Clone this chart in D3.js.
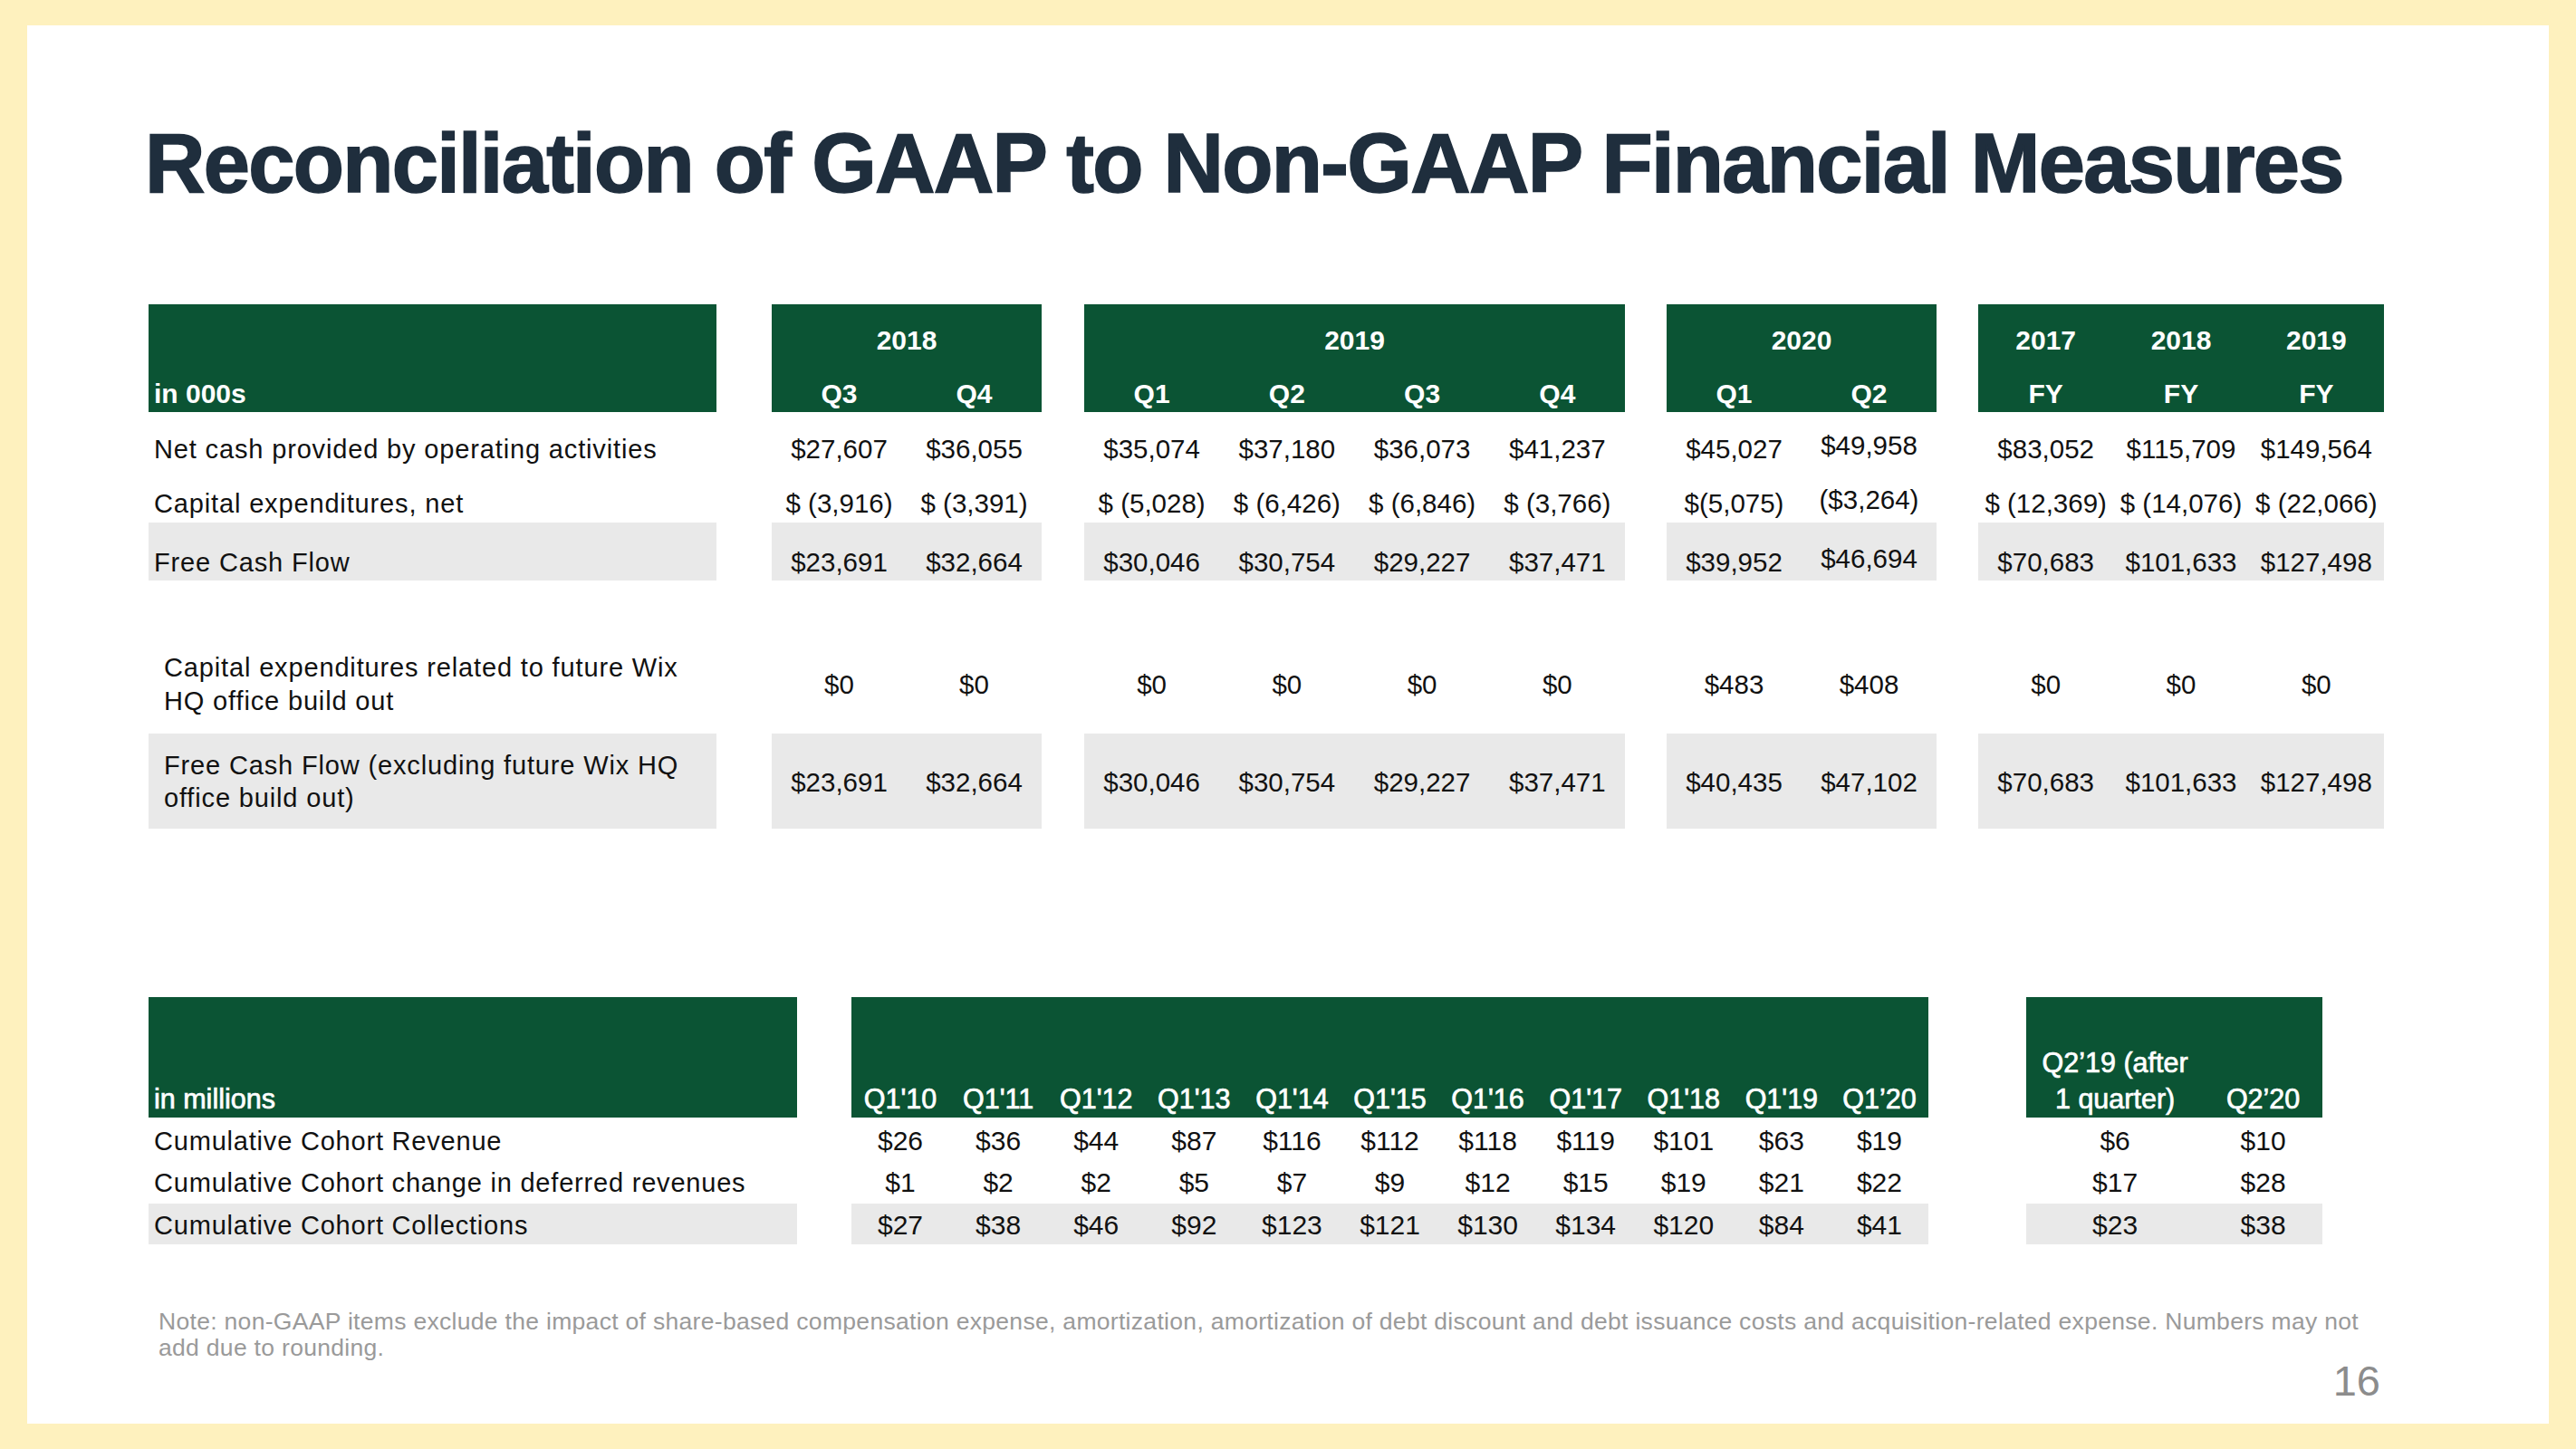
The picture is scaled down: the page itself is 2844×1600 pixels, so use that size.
<!DOCTYPE html>
<html><head><meta charset="utf-8">
<script src="https://cdn.jsdelivr.net/npm/d3@7"></script>
<style>html,body{margin:0;padding:0;background:#FEF1BE;} svg{display:block}</style>
</head><body>
<svg id="chart" width="2844" height="1600"></svg>
<script>
// ---------------- DATA ----------------
const titleText = "Reconciliation of GAAP to Non-GAAP Financial Measures";

// Top table (in 000s)
const topUnitLabel = "in 000s";
const topBlockYears = ["2018", "2019", "2020", null];
const topColumns = ["Q3", "Q4", "Q1", "Q2", "Q3", "Q4", "Q1", "Q2", "FY", "FY", "FY"];
const topColumnBlock = [0, 0, 1, 1, 1, 1, 2, 2, 3, 3, 3];
const fyYears = ["2017", "2018", "2019"];
const topRowLabels = [
  ["Net cash provided by operating activities"],
  ["Capital expenditures, net"],
  ["Free Cash Flow"],
  ["Capital expenditures related to future Wix", "HQ office build out"],
  ["Free Cash Flow (excluding future Wix HQ", "office build out)"]
];
const netCashOperating = [27607, 36055, 35074, 37180, 36073, 41237, 45027, 49958, 83052, 115709, 149564];
const capexNet = [-3916, -3391, -5028, -6426, -6846, -3766, -5075, -3264, -12369, -14076, -22066];
const freeCashFlow = [23691, 32664, 30046, 30754, 29227, 37471, 39952, 46694, 70683, 101633, 127498];
const capexFutureHQ = [0, 0, 0, 0, 0, 0, 483, 408, 0, 0, 0];
const freeCashFlowExHQ = [23691, 32664, 30046, 30754, 29227, 37471, 40435, 47102, 70683, 101633, 127498];

// Bottom table (in millions)
const bottomUnitLabel = "in millions";
const cohortQuarters = ["Q1'10", "Q1'11", "Q1'12", "Q1'13", "Q1'14", "Q1'15", "Q1'16", "Q1'17", "Q1'18", "Q1'19", "Q1\u201920"];
const cohortRowLabels = ["Cumulative Cohort Revenue", "Cumulative Cohort change in deferred revenues", "Cumulative Cohort Collections"];
const cohortRevenue = [26, 36, 44, 87, 116, 112, 118, 119, 101, 63, 19];
const cohortDeferred = [1, 2, 2, 5, 7, 9, 12, 15, 19, 21, 22];
const cohortCollections = [27, 38, 46, 92, 123, 121, 130, 134, 120, 84, 41];
const recentHeaders = [["Q2\u201919 (after", "1 quarter)"], ["Q2\u201920"]];
const recentRevenue = [6, 10];
const recentDeferred = [17, 28];
const recentCollections = [23, 38];

const noteLines = [
  "Note: non-GAAP items exclude the impact of share-based compensation expense, amortization, amortization of debt discount and debt issuance costs and acquisition-related expense. Numbers may not",
  "add due to rounding."
];
const pageNumber = "16";

// ---------------- STYLE / LAYOUT ----------------
const FONT = "'Helvetica Neue', Helvetica, Arial, 'Liberation Sans', sans-serif";
const GREEN = "#0b5434";
const BAND = "#e9e9e9";
const INK = "#111111";

const svg = d3.select("#chart");
svg.append("rect").attr("x", 0).attr("y", 0).attr("width", 2844).attr("height", 1600).attr("fill", "#FEF1BE");
svg.append("rect").attr("x", 30).attr("y", 28).attr("width", 2784).attr("height", 1544).attr("fill", "#ffffff");

// Title
svg.append("text")
  .attr("x", 160).attr("y", 212)
  .attr("font-family", FONT).attr("font-weight", 700).attr("font-size", 92)
  .attr("letter-spacing", -1.7)
  .attr("fill", "#1f2e3d").attr("stroke", "#1f2e3d").attr("stroke-width", 1.6)
  .text(titleText);

function fitText(sel, target) {
  const node = sel.node();
  const len = node.getComputedTextLength();
  const n = node.textContent.length;
  if (n > 1) sel.attr("letter-spacing", (target - len) / n);
}

// ---------- Top table ----------
const topLabelExtent = [164, 791];
const topBlockExtents = [[852, 1150], [1197, 1794], [1840, 2138], [2184, 2632]];
const topHeader = {y0: 336, y1: 455, yearBase: 386, subBase: 445};

const blockScales = topBlockExtents.map((ext, b) => {
  const n = topColumnBlock.filter(d => d === b).length;
  return d3.scaleBand().domain(d3.range(n)).range(ext).padding(0);
});
const topColX = topColumns.map((c, i) => {
  const b = topColumnBlock[i];
  const k = topColumnBlock.slice(0, i).filter(d => d === b).length;
  const s = blockScales[b];
  return s(k) + s.bandwidth() / 2;
});

// header rects
const gTop = svg.append("g");
gTop.append("rect").attr("x", topLabelExtent[0]).attr("y", topHeader.y0)
  .attr("width", topLabelExtent[1] - topLabelExtent[0]).attr("height", topHeader.y1 - topHeader.y0).attr("fill", GREEN);
gTop.selectAll("rect.hb").data(topBlockExtents).join("rect").attr("class", "hb")
  .attr("x", d => d[0]).attr("y", topHeader.y0).attr("width", d => d[1] - d[0])
  .attr("height", topHeader.y1 - topHeader.y0).attr("fill", GREEN);

gTop.append("text").attr("x", 170).attr("y", topHeader.subBase)
  .attr("font-family", FONT).attr("font-weight", 700).attr("font-size", 30).attr("fill", "#fff")
  .text(topUnitLabel);

// year labels
gTop.selectAll("text.yr").data(topBlockYears.map((y, b) => ({y, b})).filter(d => d.y)).join("text").attr("class", "yr")
  .attr("x", d => (topBlockExtents[d.b][0] + topBlockExtents[d.b][1]) / 2).attr("y", topHeader.yearBase)
  .attr("text-anchor", "middle").attr("font-family", FONT).attr("font-weight", 700).attr("font-size", 30).attr("fill", "#fff")
  .text(d => d.y);
const fyCols = topColumns.map((c, i) => i).filter(i => topColumnBlock[i] === 3);
gTop.selectAll("text.fy").data(fyYears).join("text").attr("class", "fy")
  .attr("x", (d, j) => topColX[fyCols[j]]).attr("y", topHeader.yearBase)
  .attr("text-anchor", "middle").attr("font-family", FONT).attr("font-weight", 700).attr("font-size", 30).attr("fill", "#fff")
  .text(d => d);
gTop.selectAll("text.qh").data(topColumns).join("text").attr("class", "qh")
  .attr("x", (d, i) => topColX[i]).attr("y", topHeader.subBase)
  .attr("text-anchor", "middle").attr("font-family", FONT).attr("font-weight", 700).attr("font-size", 30).attr("fill", "#fff")
  .text(d => d);

// rows
const fmt = d3.format(",");
function money(v, i) {
  if (v >= 0) return "$" + fmt(v);
  const a = fmt(-v);
  if (i === 6) return "$(" + a + ")";
  if (i === 7) return "($" + a + ")";
  return "$ (" + a + ")";
}
const topRows = [
  {values: netCashOperating, base: 506},
  {values: capexNet, base: 566},
  {values: freeCashFlow, base: 631, band: [577, 641]},
  {values: capexFutureHQ, base: 766, lines: [747, 784], indent: true},
  {values: freeCashFlowExHQ, base: 874, lines: [855, 891], indent: true, band: [810, 915]}
];
topRows.forEach((row, r) => {
  const g = gTop.append("g");
  if (row.band) {
    [topLabelExtent].concat(topBlockExtents).forEach(ext => {
      g.append("rect").attr("x", ext[0]).attr("y", row.band[0]).attr("width", ext[1] - ext[0])
        .attr("height", row.band[1] - row.band[0]).attr("fill", BAND);
    });
  }
  const lx = row.indent ? 181 : 170;
  const lines = row.lines || [row.base];
  topRowLabels[r].forEach((t, li) => {
    g.append("text").attr("x", lx).attr("y", lines[li])
      .attr("font-family", FONT).attr("font-size", 29).attr("letter-spacing", 0.85).attr("fill", INK).text(t);
  });
  g.selectAll("text.v").data(row.values).join("text").attr("class", "v")
    .attr("x", (d, i) => topColX[i])
    .attr("y", (d, i) => row.base - ((i === 7 && r < 3) ? 4 : 0))
    .attr("text-anchor", "middle").attr("font-family", FONT).attr("font-size", 29.5).attr("fill", INK)
    .text((d, i) => money(d, i));
});

// ---------- Bottom table ----------
const botLabelExtent = [164, 880];
const botBlock1 = [940, 2129];
const botBlock2 = [2237, 2564];
const botHeader = {y0: 1101, y1: 1234, base: 1224, base1: 1184};
const xCohort = d3.scaleBand().domain(cohortQuarters).range(botBlock1).padding(0);
const xRecentFrac = d3.scaleLinear().domain([0, 1]).range(botBlock2);
const recentCenters = [0.3, 0.8].map(xRecentFrac);

const gBot = svg.append("g");
[botLabelExtent, botBlock1, botBlock2].forEach(ext => {
  gBot.append("rect").attr("x", ext[0]).attr("y", botHeader.y0).attr("width", ext[1] - ext[0])
    .attr("height", botHeader.y1 - botHeader.y0).attr("fill", GREEN);
});
const hdrAttrs = s => s.attr("font-family", FONT).attr("font-size", 30.5).attr("fill", "#fff")
  .attr("stroke", "#fff").attr("stroke-width", 0.7);
gBot.append("text").attr("x", 170).attr("y", botHeader.base).call(hdrAttrs).text(bottomUnitLabel);
gBot.selectAll("text.cq").data(cohortQuarters).join("text").attr("class", "cq")
  .attr("x", d => xCohort(d) + xCohort.bandwidth() / 2).attr("y", botHeader.base)
  .attr("text-anchor", "middle").call(hdrAttrs).text(d => d);
recentHeaders.forEach((lines, j) => {
  const bases = lines.length === 2 ? [botHeader.base1, botHeader.base] : [botHeader.base];
  lines.forEach((t, li) => {
    gBot.append("text").attr("x", recentCenters[j]).attr("y", bases[li])
      .attr("text-anchor", "middle").call(hdrAttrs).text(t);
  });
});

const botRows = [
  {label: cohortRowLabels[0], a: cohortRevenue, b: recentRevenue, base: 1270},
  {label: cohortRowLabels[1], a: cohortDeferred, b: recentDeferred, base: 1316},
  {label: cohortRowLabels[2], a: cohortCollections, b: recentCollections, base: 1363, band: [1329, 1374]}
];
botRows.forEach(row => {
  const g = gBot.append("g");
  if (row.band) {
    [botLabelExtent, botBlock1, botBlock2].forEach(ext => {
      g.append("rect").attr("x", ext[0]).attr("y", row.band[0]).attr("width", ext[1] - ext[0])
        .attr("height", row.band[1] - row.band[0]).attr("fill", BAND);
    });
  }
  g.append("text").attr("x", 170).attr("y", row.base)
    .attr("font-family", FONT).attr("font-size", 29).attr("letter-spacing", 0.8).attr("fill", INK).text(row.label);
  g.selectAll("text.a").data(row.a).join("text").attr("class", "a")
    .attr("x", (d, i) => xCohort(cohortQuarters[i]) + xCohort.bandwidth() / 2).attr("y", row.base)
    .attr("text-anchor", "middle").attr("font-family", FONT).attr("font-size", 30).attr("fill", INK)
    .text(d => "$" + d);
  g.selectAll("text.b").data(row.b).join("text").attr("class", "b")
    .attr("x", (d, i) => recentCenters[i]).attr("y", row.base)
    .attr("text-anchor", "middle").attr("font-family", FONT).attr("font-size", 30).attr("fill", INK)
    .text(d => "$" + d);
});

// ---------- Note & page number ----------
const n1 = svg.append("text").attr("x", 175).attr("y", 1468)
  .attr("font-family", FONT).attr("font-size", 26.5).attr("fill", "#9a9a9a").text(noteLines[0]);
fitText(n1, 2429);
const n2 = svg.append("text").attr("x", 175).attr("y", 1497)
  .attr("font-family", FONT).attr("font-size", 26.5).attr("fill", "#9a9a9a").text(noteLines[1]);
n2.attr("letter-spacing", n1.attr("letter-spacing"));

svg.append("text").attr("x", 2628).attr("y", 1541).attr("text-anchor", "end")
  .attr("font-family", FONT).attr("font-size", 47).attr("fill", "#8c8c8c").text(pageNumber);
</script>
</body></html>
